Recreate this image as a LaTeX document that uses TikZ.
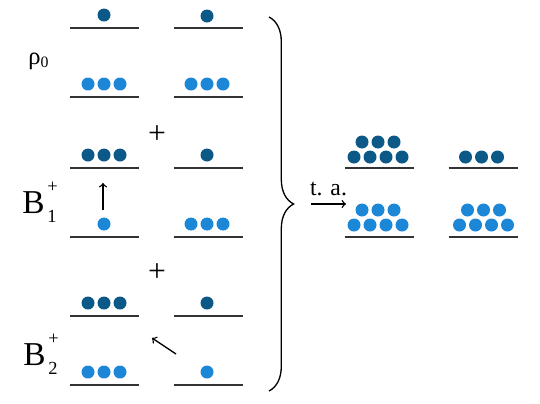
\documentclass[tikz,border=0pt]{standalone}
\usepackage{fontspec}
\setmainfont{Liberation Serif}
\usetikzlibrary{decorations.pathreplacing,calc}
\definecolor{dark-blue}{RGB}{12,88,135}
\definecolor{light-blue}{RGB}{28,135,214}
\tikzstyle{orbital}=[line width=1.1pt,black!80]
\tikzstyle{arrowline}=[->,line width=0.75pt]
\tikzstyle{bigsym}=[inner sep=0pt,anchor=base west,font=\fontsize{19}{19}\selectfont]
\newcommand{\drawshell}[2]{% x centre, y of one level
  \draw[orbital] (#1-34.5,#2) -- (#1+34.5,#2);
}
\newcommand{\drawballs}[4][dark-blue]{% colour, number, x centre, y
  \foreach \i in {1,...,#2} {
  \pgfmathsetmacro{\x}{#3+16*\i-8*#2-8}
  \fill[#1] (\x,#4) circle (3.7pt);
}
}
\newcommand{\smallfig}[1]{\fontsize{10.5}{10.5}\selectfont #1}
\begin{document}
\begin{tikzpicture}[x=0.02cm,y=-0.02cm]
	\useasboundingbox (0,0) rectangle (540,403);
	% left part: six levels in two columns
	\foreach \y in {28,97,168,237,316,385} {
	\drawshell{104.5}{\y}
	\drawshell{208}{\y}
	}
	\drawballs{1}{104}{15}
	\drawballs{1}{207}{16}
	\drawballs[light-blue]{3}{104}{84}
	\drawballs[light-blue]{3}{207}{84}
	\drawballs{3}{104}{155}
	\drawballs{1}{207}{155}
	\drawballs[light-blue]{1}{104}{224}
	\drawballs[light-blue]{3}{207}{224}
	\drawballs{3}{104}{303}
	\drawballs{1}{207}{303}
	\drawballs[light-blue]{3}{104}{372}
	\drawballs[light-blue]{1}{207}{372}
	\node[inner sep=0pt,anchor=base west,font=\fontsize{14}{14}\selectfont] (rho) at (28,64) {ρ\raisebox{-0.3ex}{\fontsize{9}{9}\selectfont 0}};
	\node[bigsym] (bone) at (22,213) {B\kern1.5pt\rlap{\raisebox{0.62em}{\smallfig{+}}}\raisebox{-0.27em}{\smallfig{1}}};
	\node[bigsym] (btwo) at (23,365) {B\kern1.5pt\rlap{\raisebox{0.62em}{\smallfig{+}}}\raisebox{-0.27em}{\smallfig{2}}};
	\node[font=\fontsize{18}{18}\selectfont] (plusone) at (157,135) {+};
	\node[font=\fontsize{18}{18}\selectfont] (plustwo) at (157,273) {+};
	\coordinate (upfoot) at (103,210);
	\coordinate (uphead) at (103,183);
	\draw[arrowline] (upfoot) -- (uphead);
	\coordinate (diagfoot) at (176,354);
	\coordinate (diaghead) at (152,338);
	\draw[arrowline] (diagfoot) -- (diaghead);
	% brace and time average
	\coordinate (bracetop) at (269,17);
	\coordinate (bracebot) at (269,391);
	\draw[decorate,decoration={brace,amplitude=14pt},line width=0.75pt] (bracetop) -- (bracebot);
	\coordinate (taleft) at (311,204);
	\coordinate (taright) at (346,204);
	\draw[arrowline] (taleft) -- node[above=1pt,font=\fontsize{13.5}{13.5}\selectfont] (ta) {t. a.} (taright);
	% right part
	\foreach \y in {168,237} {
	\drawshell{379}{\y}
	\drawshell{483}{\y}
	}
	\drawballs{4}{378}{157}
	\drawballs{3}{378}{142}
	\drawballs{3}{481.5}{157}
	\drawballs[light-blue]{4}{378}{225}
	\drawballs[light-blue]{3}{378}{210}
	\drawballs[light-blue]{4}{483.5}{225}
	\drawballs[light-blue]{3}{483.5}{210}
\end{tikzpicture}
\end{document}
